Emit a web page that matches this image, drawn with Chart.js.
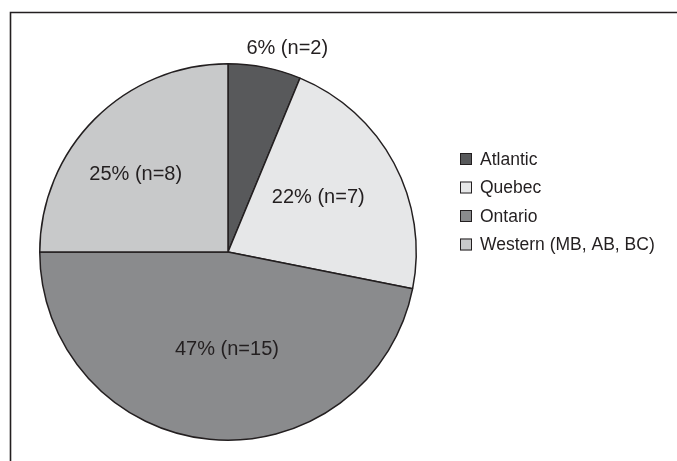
<!DOCTYPE html>
<html>
<head>
<meta charset="utf-8">
<script src="https://cdn.jsdelivr.net/npm/chart.js@4/dist/chart.umd.min.js"></script>
<style>
  html, body { margin: 0; padding: 0; background: #ffffff; }
  #wrap { width: 677px; height: 461px; position: relative; }
</style>
</head>
<body>
<div id="wrap"><canvas id="pie" width="677" height="461"></canvas></div>
<script>
// Respondents by region
const regions = ['Atlantic', 'Quebec', 'Ontario', 'Western (MB, AB, BC)'];
const counts = [2, 7, 15, 8];
const fills = ['#58595b', '#e6e7e8', '#8a8b8d', '#c8c9ca'];

// Where each slice label sits: fraction of the radius from the centre,
// and a small angular nudge (degrees) from the slice's mid-angle.
const labelRadius = [1.125, 0.56, 0.52, 0.64];
const labelNudge = [5, -3, -5, -5];

const ink = '#231f20';

const total = counts.reduce((a, b) => a + b, 0);

// Open frame around the figure (its right and bottom edges run off the page)
const framePlugin = {
  id: 'frame',
  beforeDraw(chart) {
    const ctx = chart.ctx;
    ctx.save();
    ctx.strokeStyle = ink;
    ctx.lineWidth = 1.6;
    ctx.beginPath();
    ctx.moveTo(10.5, chart.height + 2);
    ctx.lineTo(10.5, 12.5);
    ctx.lineTo(chart.width + 2, 12.5);
    ctx.stroke();
    ctx.restore();
  }
};

// Percent and count written on/near each slice
const sliceLabels = {
  id: 'sliceLabels',
  afterDatasetsDraw(chart) {
    const ctx = chart.ctx;
    const meta = chart.getDatasetMeta(0);
    ctx.save();
    ctx.font = '20px "Liberation Sans", Arial, sans-serif';
    ctx.fillStyle = ink;
    ctx.textAlign = 'center';
    ctx.textBaseline = 'middle';
    meta.data.forEach((arc, i) => {
      const p = arc.getProps(['x', 'y', 'startAngle', 'endAngle', 'outerRadius'], true);
      const mid = (p.startAngle + p.endAngle) / 2 + labelNudge[i] * Math.PI / 180;
      const r = p.outerRadius * labelRadius[i];
      const x = p.x + Math.cos(mid) * r;
      const y = p.y + Math.sin(mid) * r;
      const pct = Math.round(counts[i] / total * 100);
      ctx.fillText(pct + '% (n=' + counts[i] + ')', x, y);
    });
    ctx.restore();
  }
};

// Square-swatch legend to the right of the pie
const sideLegend = {
  id: 'sideLegend',
  afterDraw(chart) {
    const ctx = chart.ctx;
    const x0 = 460, y0 = 159, step = 28.5, box = 12;
    ctx.save();
    ctx.font = '17.5px "Liberation Sans", Arial, sans-serif';
    ctx.textBaseline = 'middle';
    ctx.textAlign = 'left';
    chart.data.labels.forEach((lab, i) => {
      const y = y0 + i * step;
      ctx.fillStyle = fills[i];
      ctx.fillRect(x0, y - box / 2, box, box);
      ctx.strokeStyle = ink;
      ctx.lineWidth = 1;
      ctx.strokeRect(x0 + 0.5, y - box / 2 + 0.5, box - 1, box - 1);
      ctx.fillStyle = ink;
      ctx.fillText(lab, x0 + 20, y + 1);
    });
    ctx.restore();
  }
};

new Chart(document.getElementById('pie'), {
  type: 'pie',
  data: {
    labels: regions,
    datasets: [{
      data: counts,
      backgroundColor: fills,
      borderColor: ink,
      borderWidth: 1.5,
      borderAlign: 'center'
    }]
  },
  options: {
    responsive: false,
    animation: false,
    layout: { padding: { left: 39, top: 63, right: 260, bottom: 20 } },
    plugins: {
      legend: { display: false },
      tooltip: { enabled: false }
    }
  },
  plugins: [framePlugin, sliceLabels, sideLegend]
});
</script>
</body>
</html>
